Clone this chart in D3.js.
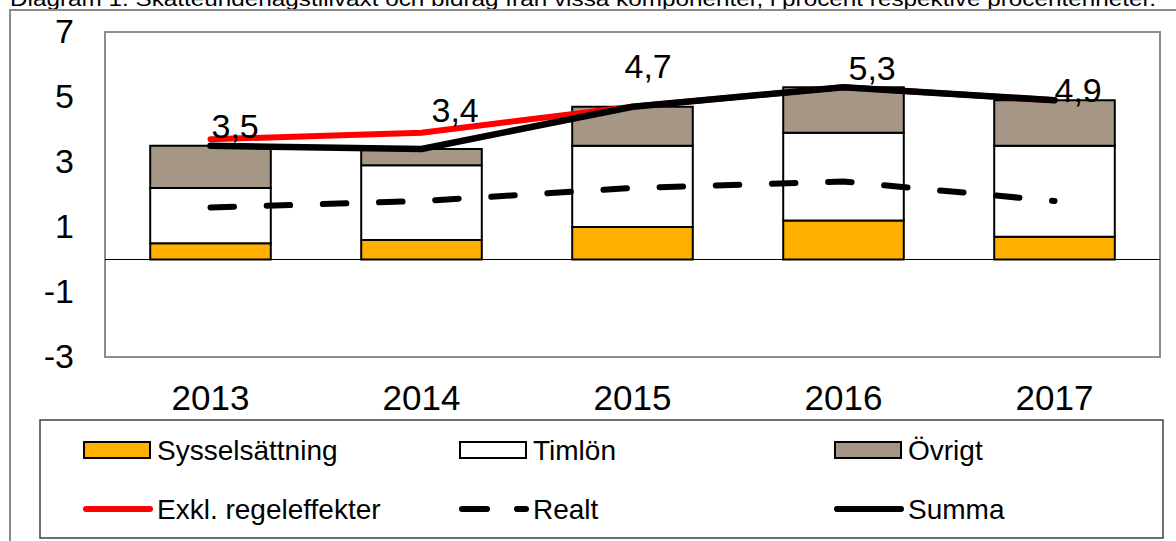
<!DOCTYPE html>
<html>
<head>
<meta charset="utf-8">
<script src="https://cdn.jsdelivr.net/npm/d3@7"></script>
<style>
  body { margin: 0; background: #fff; }
  svg { display: block; font-family: "Liberation Sans", Arial, sans-serif; }
</style>
</head>
<body>
<div id="chart"></div>
<script>
// Data
const years = ["2013", "2014", "2015", "2016", "2017"];
const sysselsattning = [0.5, 0.6, 1.0, 1.2, 0.7];
const timlon = [1.7, 2.3, 2.5, 2.7, 2.8];
const ovrigt = [1.3, 0.5, 1.2, 1.4, 1.4];
const exklRegel = [3.7, 3.9, 4.7, 5.3, 4.9];
const realt = [1.6, 1.8, 2.2, 2.4, 1.8];
const summa = [3.5, 3.4, 4.7, 5.3, 4.9];
const summaLabels = ["3,5", "3,4", "4,7", "5,3", "4,9"];
const yTicks = [-3, -1, 1, 3, 5, 7];

const width = 1176, height = 541;
const plot = { left: 105, right: 1160, top: 32, bottom: 357 };

const svg = d3.select("#chart").append("svg")
    .attr("width", width)
    .attr("height", height);

svg.append("rect").attr("width", width).attr("height", height).attr("fill", "#fff");

// Title (clipped by the top edge, as in the source image)
svg.append("text")
    .attr("x", 10)
    .attr("y", 6)
    .attr("textLength", 1146)
    .attr("lengthAdjust", "spacingAndGlyphs")
    .style("font-size", "20px")
    .text("Diagram 1. Skatteunderlagstillväxt och bidrag från vissa komponenter, i procent respektive procentenheter.");

// Outer frame
svg.append("rect")
    .attr("x", 10).attr("y", 10)
    .attr("width", 1200).attr("height", 560)
    .attr("fill", "none")
    .attr("stroke", "#8c8c8c")
    .attr("stroke-width", 2);

// Scales
const x = d3.scaleBand().domain(years).range([plot.left, plot.right]).paddingInner(0).paddingOuter(0);
const y = d3.scaleLinear().domain([-3, 7]).range([plot.bottom, plot.top]);
const barW = x.bandwidth() / 1.75;
const cx = d => x(d) + x.bandwidth() / 2;

// Plot area border
svg.append("rect")
    .attr("x", plot.left).attr("y", plot.top)
    .attr("width", plot.right - plot.left).attr("height", plot.bottom - plot.top)
    .attr("fill", "none")
    .attr("stroke", "#8c8c8c")
    .attr("stroke-width", 2);

// Y axis labels
const yAxis = svg.append("g")
    .attr("transform", `translate(${plot.left},0)`)
    .call(d3.axisLeft(y).tickValues(yTicks).tickSize(0).tickPadding(31).tickFormat(d => d));
yAxis.select(".domain").remove();
yAxis.selectAll("text")
    .style("font-size", "34px")
    .style("font-family", "Liberation Sans, Arial, sans-serif")
    .attr("fill", "#000");

// X axis labels
const xAxis = svg.append("g")
    .attr("transform", `translate(0,${plot.bottom})`)
    .call(d3.axisBottom(x).tickSize(0).tickPadding(28));
xAxis.select(".domain").remove();
xAxis.selectAll("text")
    .style("font-size", "35px")
    .style("font-family", "Liberation Sans, Arial, sans-serif")
    .attr("fill", "#000");

// Stacked bars
const stackRows = years.map((yr, i) => ({
    year: yr,
    Sysselsättning: sysselsattning[i],
    Timlön: timlon[i],
    Övrigt: ovrigt[i]
}));
const keys = ["Sysselsättning", "Timlön", "Övrigt"];
const colors = { "Sysselsättning": "#ffb000", "Timlön": "#ffffff", "Övrigt": "#a69686" };
const stacked = d3.stack().keys(keys)(stackRows);

svg.append("g").selectAll("g")
    .data(stacked)
    .join("g")
    .attr("fill", d => colors[d.key])
    .selectAll("rect")
    .data(d => d)
    .join("rect")
    .attr("x", d => cx(d.data.year) - barW / 2)
    .attr("y", d => y(d[1]))
    .attr("width", barW)
    .attr("height", d => y(d[0]) - y(d[1]))
    .attr("stroke", "#000")
    .attr("stroke-width", 2);

// Zero line
svg.append("line")
    .attr("x1", plot.left).attr("x2", plot.right)
    .attr("y1", y(0)).attr("y2", y(0))
    .attr("stroke", "#000")
    .attr("stroke-width", 1);

// Lines
const line = d3.line()
    .x((d, i) => cx(years[i]))
    .y(d => y(d));

svg.append("path")
    .attr("d", line(exklRegel))
    .attr("fill", "none")
    .attr("stroke", "#ff0000")
    .attr("stroke-width", 6)
    .attr("stroke-linecap", "round")
    .attr("stroke-linejoin", "round");

svg.append("path")
    .attr("d", line(realt))
    .attr("fill", "none")
    .attr("stroke", "#000")
    .attr("stroke-width", 6)
    .attr("stroke-dasharray", "23.5 32.7")
    .attr("stroke-linecap", "round");

svg.append("path")
    .attr("d", line(summa))
    .attr("fill", "none")
    .attr("stroke", "#000")
    .attr("stroke-width", 6.5)
    .attr("stroke-linecap", "round")
    .attr("stroke-linejoin", "round");

// Summa labels (hand-placed in the source, nudged from each point)
const labelNudge = [[1, -8], [10, -27], [-8, -29], [5, -7], [0, 2]];
svg.append("g").selectAll("text")
    .data(summa)
    .join("text")
    .attr("x", (d, i) => cx(years[i]) + labelNudge[i][0])
    .attr("y", (d, i) => y(d) + labelNudge[i][1])
    .style("font-size", "34px")
    .text((d, i) => summaLabels[i]);

// Legend
const legend = svg.append("g");
legend.append("rect")
    .attr("x", 40).attr("y", 420)
    .attr("width", 1123).attr("height", 118)
    .attr("fill", "#fff")
    .attr("stroke", "#404040")
    .attr("stroke-width", 1.5);

const legendItems = [
    { name: "Sysselsättning", type: "rect", fill: colors["Sysselsättning"], col: 0, row: 0 },
    { name: "Timlön", type: "rect", fill: colors["Timlön"], col: 1, row: 0 },
    { name: "Övrigt", type: "rect", fill: colors["Övrigt"], col: 2, row: 0 },
    { name: "Exkl. regeleffekter", type: "line", stroke: "#ff0000", col: 0, row: 1 },
    { name: "Realt", type: "dash", stroke: "#000", col: 1, row: 1 },
    { name: "Summa", type: "line", stroke: "#000", col: 2, row: 1 }
];
const colX = [83, 459, 834];
const rowY = [450, 509];

legendItems.forEach(it => {
    const g = legend.append("g")
        .attr("transform", `translate(${colX[it.col]},${rowY[it.row]})`);
    if (it.type === "rect") {
        g.append("rect")
            .attr("x", 1).attr("y", -8)
            .attr("width", 66).attr("height", 16)
            .attr("fill", it.fill)
            .attr("stroke", "#000")
            .attr("stroke-width", 2);
    } else {
        g.append("line")
            .attr("x1", 3).attr("x2", 67)
            .attr("y1", 0).attr("y2", 0)
            .attr("stroke", it.stroke)
            .attr("stroke-width", 6)
            .attr("stroke-linecap", "round")
            .attr("stroke-dasharray", it.type === "dash" ? "25 30" : null);
    }
    g.append("text")
        .attr("x", 74)
        .attr("y", 0)
        .attr("dy", "0.35em")
        .style("font-size", "28px")
        .text(it.name);
});
</script>
</body>
</html>
